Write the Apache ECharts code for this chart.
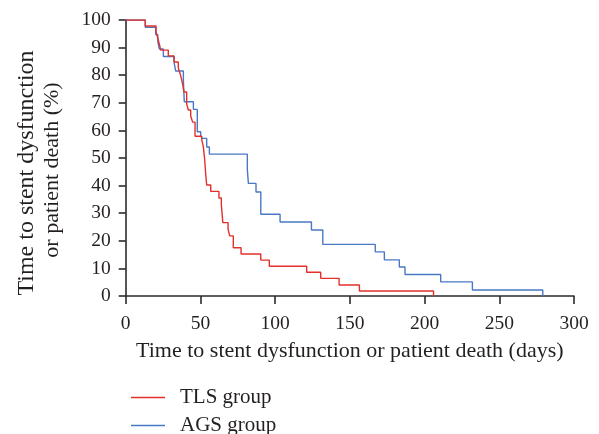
<!DOCTYPE html>
<html>
<head>
<meta charset="utf-8">
<script src="https://cdn.jsdelivr.net/npm/echarts@6/dist/echarts.min.js"></script>
<style>
html,body{margin:0;padding:0;background:#fff;}
#chart{width:599px;height:434px;}
</style>
</head>
<body>
<div id="chart"></div>
<script>
// Kaplan-Meier step data: time (days) at which survival drops to the given value (%)
const tlsTimes = [0, 13.1, 20.3, 21.4, 22.5, 23.4, 28.5, 32.3, 35.2, 36.5, 37.5, 38.3, 39.0, 40.8, 41.9, 43.5, 44.8, 46.4, 50.9, 51.9, 52.8, 53.5, 54.2, 56.9, 62.4, 64.0, 65.0, 68.5, 69.6, 72.0, 77.2, 90.4, 96.1, 121.1, 130.5, 142.8, 156.4, 206];
const tlsValues = [100, 97.8, 95.7, 93.5, 91.3, 89.1, 87.0, 84.8, 82.6, 80.4, 78.3, 76.1, 73.9, 69.6, 67.4, 65.2, 63.0, 57.9, 56.5, 54.3, 49.8, 44.4, 40.2, 37.9, 35.5, 33.1, 26.6, 24.2, 21.8, 17.5, 15.2, 13.0, 10.8, 8.6, 6.4, 4.0, 1.8, 0];

const agsTimes = [0, 13.1, 20.1, 21.5, 22.5, 25.2, 32.5, 33.5, 38.6, 39.2, 45.3, 47.9, 50.2, 50.9, 54.2, 56.0, 81.4, 82.1, 87.2, 90.4, 103.3, 124.3, 131.9, 167.0, 173.1, 183.1, 186.9, 210.8, 232.0, 279.1];
const agsValues = [100, 97.4, 94.7, 92.1, 89.5, 86.8, 84.2, 81.5, 78.2, 70.4, 67.6, 59.5, 58.3, 57.1, 54.0, 51.4, 45.8, 40.8, 37.7, 29.6, 26.8, 23.9, 18.7, 16.0, 13.1, 10.5, 7.8, 5.1, 2.2, 0];

const xTicks = [0, 50, 100, 150, 200, 250, 300];
const yTicks = [0, 10, 20, 30, 40, 50, 60, 70, 80, 90, 100];
const seriesNames = ['TLS group', 'AGS group'];
const xTitle = 'Time to stent dysfunction or patient death (days)';
const yTitleLines = ['Time to stent dysfunction', 'or patient death (%)'];

const FONT = '"Liberation Serif", "DejaVu Serif", serif';
const TXT = '#231f20';
const AX = '#2b2b2b';
const RED = '#e3302a';
const BLUE = '#4a78c4';

const chart = echarts.init(document.getElementById('chart'), null, {renderer: 'canvas'});
const pair = (ts, vs) => ts.map((t, i) => [t, vs[i]]);

const legendBase = {
  show: true, orient: 'vertical', left: 126,
  icon: 'rect', itemWidth: 34, itemHeight: 1.6,
  textStyle: {fontFamily: FONT, fontSize: 21, color: TXT, padding: [0, 0, 0, 10]}
};

chart.setOption({
  animation: false,
  backgroundColor: '#fff',
  grid: {left: 125.7, right: 25, top: 20, bottom: 138, containLabel: false},
  xAxis: {
    type: 'value', min: xTicks[0], max: xTicks[xTicks.length - 1], interval: 50,
    name: xTitle, nameLocation: 'middle', nameGap: 44,
    nameTextStyle: {fontFamily: FONT, fontSize: 22, color: TXT},
    axisLine: {show: true, onZero: false, lineStyle: {color: AX, width: 1.6}},
    axisTick: {show: true, inside: false, length: 8, lineStyle: {color: AX, width: 1.6}},
    axisLabel: {fontFamily: FONT, fontSize: 19.5, color: TXT, margin: 18},
    splitLine: {show: false}
  },
  yAxis: {
    type: 'value', min: yTicks[0], max: yTicks[yTicks.length - 1], interval: 10,
    axisLine: {show: true, lineStyle: {color: AX, width: 1.6}},
    axisTick: {show: true, inside: false, length: 7, lineStyle: {color: AX, width: 1.6}},
    axisLabel: {fontFamily: FONT, fontSize: 19.5, color: TXT, margin: 15},
    splitLine: {show: false}
  },
  legend: [
    Object.assign({}, legendBase, {top: 382, data: [seriesNames[0]]}),
    Object.assign({}, legendBase, {top: 410, data: [seriesNames[1]]})
  ],
  graphic: [{
    type: 'text', x: 27, y: 173, rotation: Math.PI / 2,
    style: {text: yTitleLines[0], fontFamily: FONT, fontSize: 24, fill: TXT, align: 'center', verticalAlign: 'middle'}
  }, {
    type: 'text', x: 52, y: 170, rotation: Math.PI / 2,
    style: {text: yTitleLines[1], fontFamily: FONT, fontSize: 22, fill: TXT, align: 'center', verticalAlign: 'middle'}
  }],
  series: [
    {name: seriesNames[1], type: 'line', step: 'end', showSymbol: false, symbol: 'none',
     data: pair(agsTimes, agsValues), lineStyle: {color: BLUE, width: 1.4}, itemStyle: {color: BLUE}, z: 2},
    {name: seriesNames[0], type: 'line', step: 'end', showSymbol: false, symbol: 'none',
     data: pair(tlsTimes, tlsValues), lineStyle: {color: RED, width: 1.4}, itemStyle: {color: RED}, z: 3}
  ]
});
</script>
</body>
</html>
